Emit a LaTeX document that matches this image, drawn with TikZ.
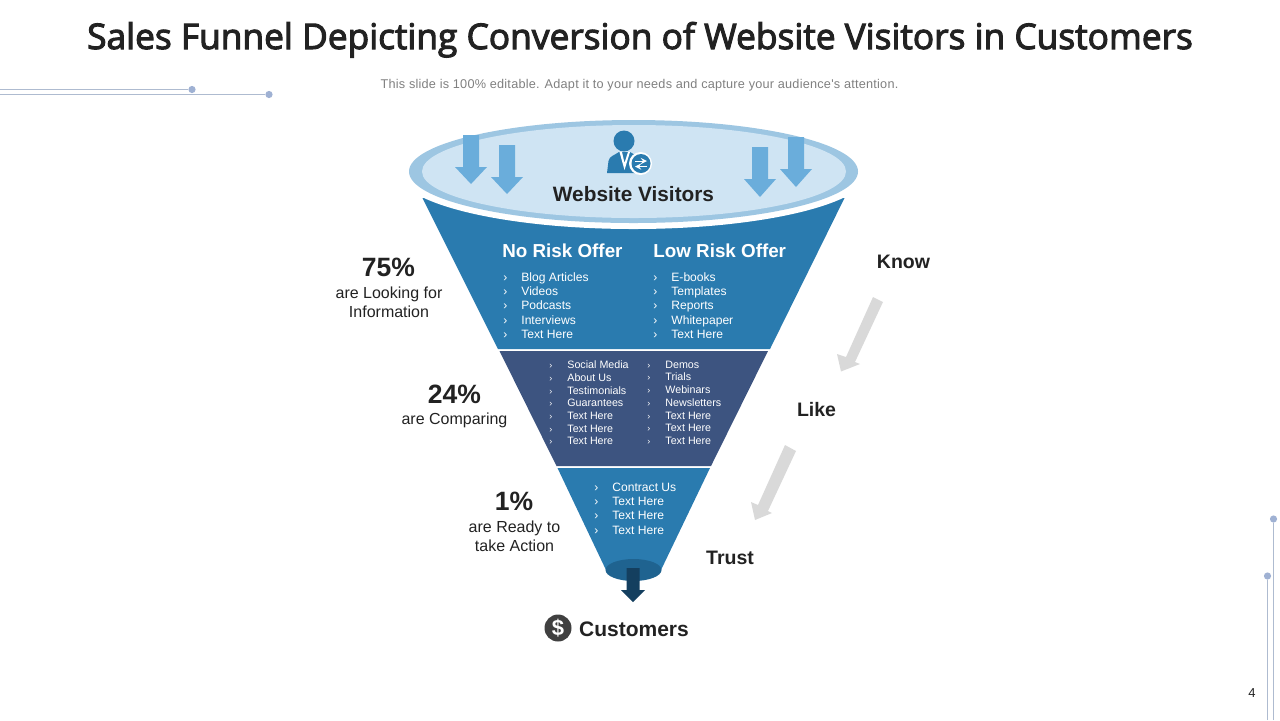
\documentclass[tikz,border=0pt]{standalone}
\usepackage{fontspec}
\setmainfont{Liberation Sans}
\newfontfamily\titlefont{Open Sans}[FakeBold=3]
\newfontfamily\subtitlefont{Liberation Sans}[LetterSpace=1.8]
\definecolor{bandblue}{HTML}{2A7BAF}
\definecolor{bandnavy}{HTML}{3D5480}
\definecolor{rimblue}{HTML}{9DC6E2}
\definecolor{mouthblue}{HTML}{CFE4F3}
\definecolor{dropblue}{HTML}{6AADDB}
\definecolor{iconblue}{HTML}{2A7BAF}
\definecolor{spoutblue}{HTML}{1F6390}
\definecolor{spoutarrow}{HTML}{143F5F}
\definecolor{inkdark}{HTML}{222222}
\definecolor{decoline}{HTML}{AEBBD0}
\definecolor{decodot}{HTML}{9FB1D3}
\newcommand{\rowA}[1]{\makebox[9pt][l]{›}#1}
\newcommand{\rowB}[1]{\makebox[9pt][l]{\fontsize{4.5pt}{5pt}\selectfont›}#1}
\tikzset{
  headtext/.style={text=inkdark, font=\bfseries\fontsize{9.75}{11}\selectfont, inner sep=0pt},
  pcttext/.style={text=inkdark, font=\bfseries\fontsize{13.25}{15}\selectfont, inner sep=0pt},
  notetext/.style={text=inkdark, align=center, font=\fontsize{8}{9.4}\selectfont, inner sep=0pt},
  offertext/.style={text=white, anchor=west, font=\bfseries\fontsize{9.4}{11}\selectfont, inner sep=0pt},
  listbig/.style={text=white, anchor=north west, align=left, inner sep=0pt, font=\fontsize{6.05}{7.15}\selectfont},
  listsmall/.style={text=white, anchor=north west, align=left, inner sep=0pt, font=\fontsize{5.35}{6.35}\selectfont},
  decodotmark/.style={circle, fill=decodot, inner sep=0pt, minimum size=3.6pt},
}
\begin{document}
\begin{tikzpicture}[x=0.5pt,y=-0.5pt]
\useasboundingbox (0,0) rectangle (1280,720);
% title
\node[text=inkdark, inner sep=0pt, anchor=base, font=\titlefont\fontsize{17.65}{20}\selectfont] (title) at (640,49) {Sales Funnel Depicting Conversion of Website Visitors in Customers};
\node[text=black!50, inner sep=0pt, font=\subtitlefont\fontsize{6.35}{8}\selectfont] (subtitle) at (639.5,85) {This slide is 100\% editable. Adapt it to your needs and capture your audience's attention.};
% corner decoration
\node[decodotmark] (dotla) at (192,89.5) {};
\node[decodotmark] (dotlb) at (269,94.5) {};
\node[decodotmark] (dotra) at (1273.5,519) {};
\node[decodotmark] (dotrb) at (1267.5,576) {};
\coordinate (endla) at (0,89.5);
\coordinate (endlb) at (0,94.5);
\coordinate (endra) at (1273.5,720);
\coordinate (endrb) at (1267.5,720);
\draw[decoline, line width=0.7pt] (endla) -- (dotla);
\draw[decoline, line width=0.7pt] (endlb) -- (dotlb);
\draw[decoline, line width=0.7pt] (endra) -- (dotra);
\draw[decoline, line width=0.7pt] (endrb) -- (dotrb);
% funnel
\fill[bandblue] (422.5,198) -- (844.5,198) -- (770,349) -- (498,349) -- cycle;
\fill[bandnavy] (499.5,351) -- (768,351) -- (711,466) -- (556.5,466) -- cycle;
\fill[bandblue] (557.5,468) -- (710,468) -- (661,570) -- (606,570) -- cycle;
\fill[spoutblue] (633.5,570) ellipse (28 and 11);
\fill[white] (633.5,171.5) ellipse (236 and 57.5);
\fill[rimblue] (633.5,171.5) ellipse (224.5 and 51.5);
\fill[mouthblue] (634,171.5) ellipse (212 and 46.5);
% arrows into the mouth
\fill[dropblue] (463,135) -- (479,135) -- (479,167) -- (487,167) -- (471,184) -- (455,167) -- (463,167) -- cycle;
\fill[dropblue] (499,145) -- (515,145) -- (515,177) -- (523,177) -- (507,194) -- (491,177) -- (499,177) -- cycle;
\fill[dropblue] (752,147) -- (768,147) -- (768,179) -- (776,179) -- (760,197) -- (744,179) -- (752,179) -- cycle;
\fill[dropblue] (788,137) -- (804,137) -- (804,169) -- (812,169) -- (796,187) -- (780,169) -- (788,169) -- cycle;
% visitor icon
\fill[iconblue] (624,141) ellipse (10.5 and 10.5);
\fill[iconblue] (607,173) -- (608.5,161) .. controls (609.5,156) and (614,155.5) .. (619,152) -- (630,152) .. controls (635,155.5) and (640,156) .. (642,161) -- (643,173) -- cycle;
\fill[white] (619.5,152) -- (624.5,170) -- (630,152) -- (628,152) -- (624.5,163) -- (622,152) -- cycle;
\fill[white] (640.5,163.5) circle (11.5);
\fill[iconblue] (641,163.5) circle (9.5);
\draw[white, line width=0.4pt, ->, >=stealth] (635,161) -- (647,161);
\draw[white, line width=0.4pt, ->, >=stealth] (647,166.5) -- (635,166.5);
\node[text=inkdark, inner sep=0pt, font=\bfseries\fontsize{10.4}{13}\selectfont] (visitors) at (633.5,194) {Website Visitors};
% first band
\node[offertext] (norisk) at (502,251) {No Risk Offer};
\node[offertext] (lowrisk) at (653,251) {Low Risk Offer};
\node[listbig] (lista) at (503,272) {\rowA{Blog Articles}\\\rowA{Videos}\\\rowA{Podcasts}\\\rowA{Interviews}\\\rowA{Text Here}};
\node[listbig] (listb) at (653,272) {\rowA{E-books}\\\rowA{Templates}\\\rowA{Reports}\\\rowA{Whitepaper}\\\rowA{Text Here}};
% second band
\node[listsmall] (listc) at (549,360.5) {\rowB{Social Media}\\\rowB{About Us}\\\rowB{Testimonials}\\\rowB{Guarantees}\\\rowB{Text Here}\\\rowB{Text Here}\\\rowB{Text Here}};
\node[listsmall] (listd) at (647,360.5) {\rowB{Demos}\\\rowB{Trials}\\\rowB{Webinars}\\\rowB{Newsletters}\\\rowB{Text Here}\\\rowB{Text Here}\\\rowB{Text Here}};
% third band
\node[listbig] (liste) at (594,482.5) {\rowA{Contract Us}\\\rowA{Text Here}\\\rowA{Text Here}\\\rowA{Text Here}};
% spout and customers
\fill[spoutarrow] (626.5,568) -- (639.5,568) -- (639.5,590) -- (645,590) -- (633,602) -- (621,590) -- (626.5,590) -- cycle;
\node[circle, fill=black!75, inner sep=0pt, minimum size=13.5pt, text=white, font=\bfseries\fontsize{11}{12}\selectfont] (dollar) at (558,628) {\$};
\node[text=inkdark, inner sep=0pt, font=\bfseries\fontsize{10.5}{12}\selectfont] (customers) at (634,629) {Customers};
% left labels
\node[pcttext] (pcta) at (388.5,267) {75\%};
\node[notetext] (notea) at (389,302) {are Looking for\\Information};
\node[pcttext] (pctb) at (454.5,394) {24\%};
\node[notetext] (noteb) at (454.5,420) {are Comparing};
\node[pcttext] (pctc) at (514,501) {1\%};
\node[notetext] (notec) at (514.5,536) {are Ready to\\take Action};
% right labels
\node[headtext] (know) at (903.5,262) {Know};
\node[headtext] (like) at (816.5,410) {Like};
\node[headtext] (trust) at (730,558) {Trust};
\fill[black!15] (873,297) -- (883,302) -- (855,362) -- (860,364) -- (841,371.5) -- (837,354) -- (846,357) -- cycle;
\fill[black!15] (785,445) -- (796,451) -- (768,511) -- (772,513) -- (755,520) -- (751,502) -- (758,505) -- cycle;
% page number
\node[text=inkdark, inner sep=0pt, font=\fontsize{6.5}{8}\selectfont] (pageno) at (1252,693) {4};
\end{tikzpicture}
\end{document}
